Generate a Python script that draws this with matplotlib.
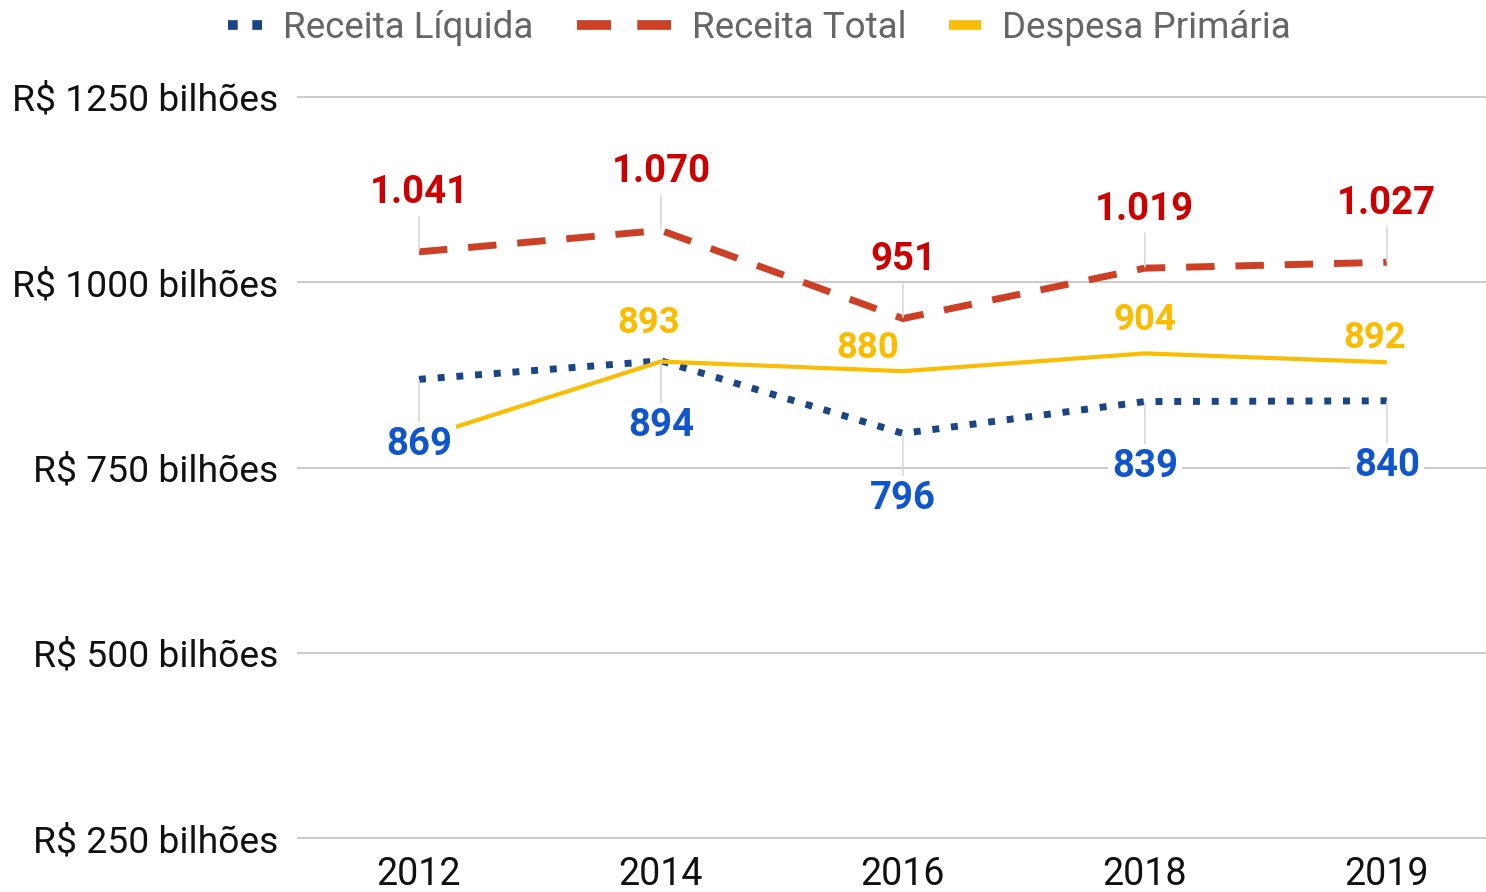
import matplotlib
matplotlib.use("Agg")
import matplotlib.pyplot as plt
from matplotlib.lines import Line2D

plt.rcParams['font.family'] = ['Roboto', 'DejaVu Sans']

anos = ["2012", "2014", "2016", "2018", "2019"]
receita_liquida = [869, 894, 796, 839, 840]
receita_total = [1041, 1070, 951, 1019, 1027]
despesa_primaria = [789, 893, 880, 904, 892]
y_ticks = [250, 500, 750, 1000, 1250]

COR_LIQ = "#1c4587"
COR_LIQ_TXT = "#1155cc"
COR_TOT = "#cc4125"
COR_TOT_TXT = "#cc0000"
COR_DESP = "#fbbc04"
COR_DESP_TXT = "#fdbb00"

# label offsets (points) for Despesa Primária, None = no label
desp_offsets = [None, (-8.6, 27.4), (-25, 16.5), (0, 23.8), (-8.6, 17.3)]


def fmt(v):
    return f"{v:,}".replace(",", ".")


W, H = 1486, 892
fig = plt.figure(figsize=(W / 100, H / 100), dpi=100)
ax = fig.add_axes([298 / W, 1 - 838 / H, (W - 298) / W, (838 - 97) / H])

x = list(range(len(anos)))
ax.plot(x, receita_liquida, color=COR_LIQ, lw=5, linestyle=(0, (1, 1.7)),
        dash_capstyle='butt', zorder=3)
ax.plot(x, receita_total, color=COR_TOT, lw=5, linestyle=(0, (4.1, 3)),
        dash_capstyle='butt', zorder=3)
ax.plot(x, despesa_primaria, color=COR_DESP, lw=3, solid_capstyle='butt', zorder=3.5)

ax.set_xlim(-0.5, 4.41)
ax.set_ylim(250, 1250)
ax.set_xticks(x)
ax.set_xticklabels(anos)
ax.set_yticks(y_ticks)
ax.set_yticklabels([f"R$ {v} bilhões" for v in y_ticks])
ax.tick_params(axis='both', length=0, labelcolor='#111111')
ax.tick_params(axis='y', pad=14.4, labelsize=26.8)
ax.tick_params(axis='x', pad=13, labelsize=27)
for s in ax.spines.values():
    s.set_visible(False)
ax.grid(axis='y', color='#cccccc', lw=1.5, zorder=0)
ax.set_axisbelow(True)
for gl in ax.get_ygridlines():
    gl.set_clip_on(False)

box = dict(boxstyle='square,pad=0.1', fc='white', ec='none')
leader = dict(arrowstyle='-', color='#d9d9d9', lw=1.2, shrinkA=2, shrinkB=1)

for i, v in enumerate(receita_total):
    ax.annotate(fmt(v), xy=(i, v), xytext=(0, 42.5), textcoords='offset points',
                ha='center', va='center', color=COR_TOT_TXT, fontsize=27.5,
                fontweight='bold', arrowprops=leader, zorder=5)

for i, v in enumerate(receita_liquida):
    ax.annotate(fmt(v), xy=(i, v), xytext=(0, -46.8), textcoords='offset points',
                ha='center', va='center', color=COR_LIQ_TXT, fontsize=27.5,
                fontweight='bold', bbox=box,
                arrowprops=dict(leader, shrinkA=0), zorder=5)

for i, v in enumerate(despesa_primaria):
    off = desp_offsets[i]
    if off is None:
        continue
    ax.annotate(fmt(v), xy=(i, v), xytext=off, textcoords='offset points',
                ha='center', va='center', color=COR_DESP_TXT, fontsize=26.3,
                fontweight='bold', zorder=5)

# legend: three separate pieces so each handle keeps its own length
entries = [
    (Line2D([], [], color=COR_LIQ, lw=7, linestyle=(0, (1, 1.5)), dash_capstyle='butt'),
     "Receita Líquida", 0.93),
    (Line2D([], [], color=COR_TOT, lw=7, linestyle=(0, (3.5, 2.7)), dash_capstyle='butt'),
     "Receita Total", 2.56),
    (Line2D([], [], color=COR_DESP, lw=7, solid_capstyle='butt'),
     "Despesa Primária", 0.87),
]
x0 = 228
for handle, label, hl in entries:
    leg = fig.legend([handle], [label], loc='center left',
                     bbox_to_anchor=(x0 / W, 1 - 28 / H), frameon=False,
                     handlelength=hl, handletextpad=0.57, borderpad=0,
                     borderaxespad=0, fontsize=26.5, labelcolor='#666666')
    fig.canvas.draw()
    bb = leg.get_window_extent()
    x0 = bb.x1 + 43

fig.savefig("out.png", dpi=100)
